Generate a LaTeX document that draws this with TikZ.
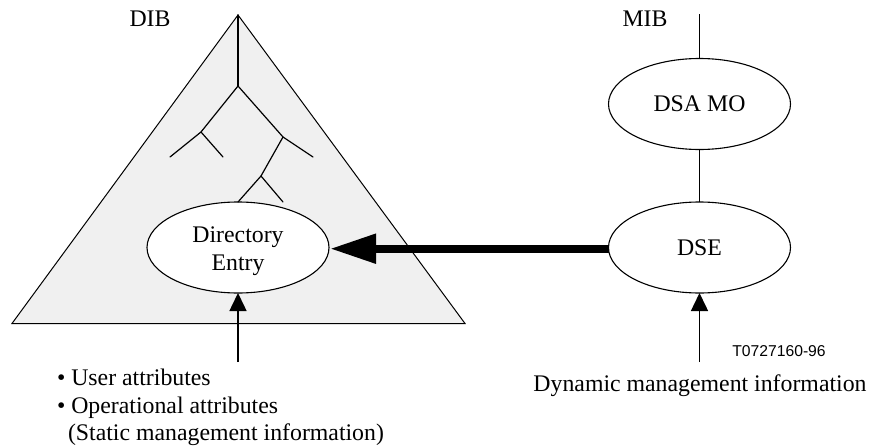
\documentclass[tikz,border=0pt]{standalone}
\usepackage{fontspec}
\setmainfont{Liberation Serif}
\newfontfamily\codefont{Liberation Sans}
\usetikzlibrary{shapes.geometric,arrows.meta}
\definecolor{tri}{gray}{0.94}
\tikzset{
  every node/.style={inner sep=0pt,outer sep=0pt},
  oval/.style={ellipse,draw,fill=white,line width=1.1pt,minimum width=182pt,minimum height=91pt,align=center,font=\fontsize{23.8}{28}\selectfont},
  lab/.style={font=\fontsize{23.8}{27.5}\selectfont},
  conn/.style={line width=1.5pt},
  branch/.style={line width=1.2pt,line cap=round},
  inarrow/.style={line width=1.5pt,-{Triangle[length=18pt,width=17pt]}},
  bigarrow/.style={line width=8pt,-{Triangle[length=46pt,width=28pt]}},
}
\begin{document}
\begin{tikzpicture}[x=1pt,y=-1pt]
\useasboundingbox (0,0) rectangle (870,447);
\coordinate (apex) at (238,15);
\coordinate (bl) at (12,323.5);
\coordinate (br) at (465,323.5);
\draw[fill=tri,line width=1pt,line join=miter] (apex) -- (br) -- (bl) -- cycle;
\node[oval] (de) at (238,247.5) {\rule{0pt}{23pt}Directory\\Entry};
\coordinate (t0) at (238,86);
\coordinate (t1) at (201,132);
\coordinate (t2) at (170,157);
\coordinate (t3) at (223,157);
\coordinate (t4) at (283,137);
\coordinate (t5) at (313,157);
\coordinate (t6) at (261,176);
\coordinate (t7) at (238,202);
\coordinate (t8) at (283,202);
\draw[branch] (apex) -- (t0);
\draw[branch] (t0) -- (t1) -- (t2);
\draw[branch] (t1) -- (t3);
\draw[branch] (t0) -- (t4) -- (t5);
\draw[branch] (t4) -- (t6) -- (t7);
\draw[branch] (t6) -- (t8);
\node[oval] (mo) at (699.5,104) {DSA MO};
\node[oval] (dse) at (699.5,247.5) {DSE};
\coordinate (mibtop) at (699.5,14);
\draw[conn] (mibtop) -- (mo);
\draw[conn] (mo) -- (dse);
\draw[bigarrow] ([yshift=-1.2pt]dse.west) -- ([yshift=-1.2pt,xshift=1pt]de.east);
\coordinate (a1) at (238,362);
\coordinate (a2) at (699.5,362);
\draw[inarrow] (a1) -- (de.south);
\draw[inarrow] (a2) -- (dse.south);
\node[lab,anchor=base] (dib) at (150,27) {DIB};
\node[lab,anchor=base] (mib) at (645,27) {MIB};
\node[anchor=base,font=\fontsize{15.7}{18}\selectfont\codefont] (code) at (779,356) {T0727160-96};
\node[lab,anchor=base] (dyn) at (700,391.5) {Dynamic management information};
\node[lab,anchor=north west,align=left] (attrs) at (57,369) {• User attributes\\• Operational attributes\\\hspace*{11pt}(Static management information)};
\end{tikzpicture}
\end{document}
